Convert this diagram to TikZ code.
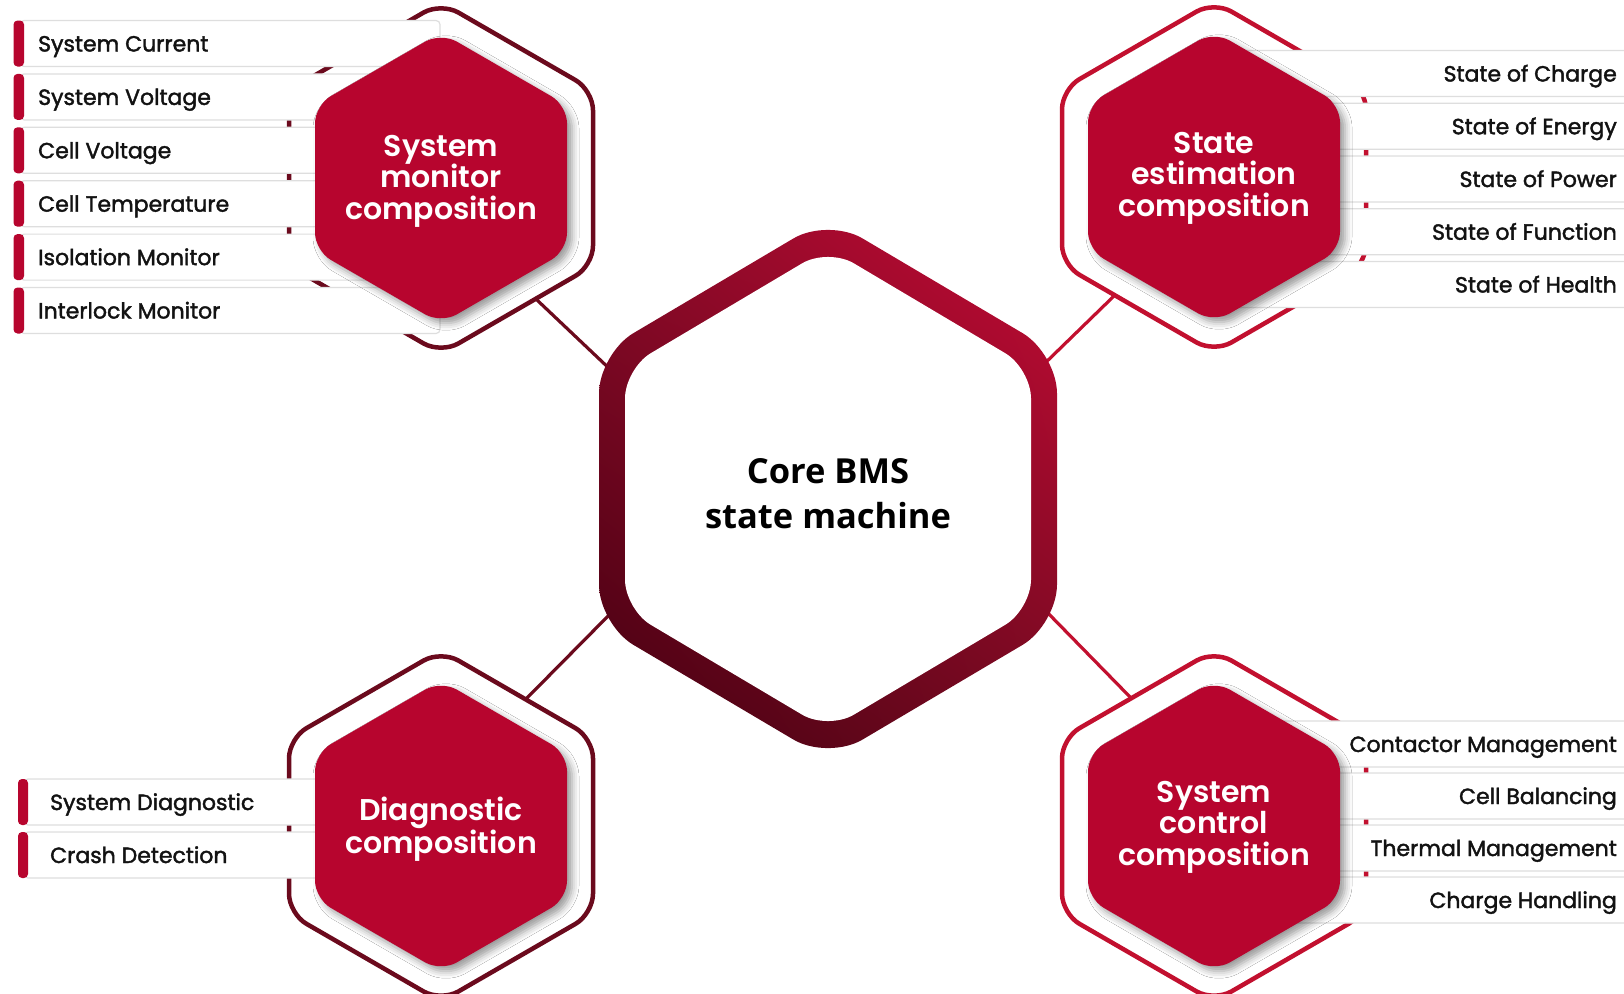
\documentclass[tikz,border=0pt]{standalone}
\usepackage{fontspec}
\setmainfont{Poppins}
\newfontfamily\popm{Poppins}[BoldFont={* SemiBold}]
\newfontfamily\popi{Poppins}[FakeBold=1.8]
\newfontfamily\corefont{Open Sans}
\usetikzlibrary{shadows.blur,shadings}
\definecolor{hexred}{HTML}{B7052E}
\definecolor{darkring}{HTML}{6B0A1D}
\definecolor{redring}{HTML}{C2102F}
\definecolor{boxgray}{HTML}{DEDEDE}
\definecolor{txt}{HTML}{121212}
\definecolor{gdark}{HTML}{420010}
\definecolor{gmidA}{HTML}{8A0A28}
\definecolor{gmidB}{HTML}{720A20}
\definecolor{gbright}{HTML}{C40B35}
% hexagon path: center x, center y, half width, vertex radius
\newcommand{\hexp}[4]{(#1-#3,#2) -- (#1-#3,#2-0.5*#4) -- (#1,#2-#4) -- (#1+#3,#2-0.5*#4) -- (#1+#3,#2+0.5*#4) -- (#1,#2+#4) -- (#1-#3,#2+0.5*#4) -- cycle}
\begin{document}
\begin{tikzpicture}[x=1pt,y=-1pt,
  hubtext/.style={text=white, font=\popm\bfseries\fontsize{30}{31.5}\selectfont, align=center, inner sep=0pt},
  itemtext/.style={text=txt, font=\popi\fontsize{22}{24}\selectfont, inner sep=0pt},
  itembox/.style={fill=white, draw=boxgray, line width=1.2pt, rounded corners=4pt},
  redbar/.style={fill=hexred, rounded corners=4pt},
  ringL/.style={draw=darkring, line width=4.5pt, fill=white, rounded corners=20pt},
  ringR/.style={draw=redring, line width=4.5pt, fill=white, rounded corners=20pt},
  hubfill/.style={fill=hexred, rounded corners=18pt, blur shadow={shadow xshift=5pt, shadow yshift=-5pt, shadow blur radius=7pt, shadow opacity=40}},
  linkL/.style={draw=darkring, line width=3.2pt},
  linkR/.style={draw=redring, line width=3.2pt},
]
\useasboundingbox (0,0) rectangle (1624,993);
\clip (0,0) rectangle (1624,993);

% connector end points
\coordinate (tlA) at (537,300);
\coordinate (tlB) at (614,373);
\coordinate (trA) at (1115,295);
\coordinate (trB) at (1040,368);
\coordinate (blA) at (525,700);
\coordinate (blB) at (614,610);
\coordinate (brA) at (1132,699);
\coordinate (brB) at (1042,607);

\draw[linkL] (tlA) -- (tlB);
\draw[linkR] (trA) -- (trB);
\draw[linkL] (blA) -- (blB);
\draw[linkR] (brA) -- (brB);

% central hexagon ring
\shade[rounded corners=40pt, upper left=gmidA, upper right=gbright, lower left=gdark, lower right=gmidB] \hexp{828}{489}{229}{271};
\fill[white, rounded corners=30pt] \hexp{828}{489}{203}{241};
\node[font=\corefont\bfseries\fontsize{34.5}{45}\selectfont, align=center, inner sep=0pt, text=black] (core) at (828,494) {Core BMS\\state machine};

% rings
\path[ringL] \hexp{441}{178}{152}{175.5};
\path[ringR] \hexp{1214}{177}{152}{175.5};
\path[ringL] \hexp{441}{826}{152}{175.5};
\path[ringR] \hexp{1214}{826}{152}{175.5};

% left top list boxes
\foreach \yc in {43.5,96.9,150.3,203.7,257.1,310.5}{
  \path[itembox] (20,\yc-23) rectangle (440,\yc+23);
  \path[redbar] (13.5,\yc-23) rectangle (24,\yc+23);
}
% left bottom list boxes
\foreach \yc in {802,855}{
  \path[itembox] (24,\yc-23) rectangle (400,\yc+23);
  \path[redbar] (18,\yc-23) rectangle (28,\yc+23);
}
% right top list boxes
\foreach \yc in {73.5,126.25,179,231.75,284.5}{
  \path[itembox] (1200,\yc-23) rectangle (1660,\yc+23);
}
% right bottom list boxes
\foreach \yc in {744,796,848,900}{
  \path[itembox] (1230,\yc-23) rectangle (1660,\yc+23);
}

% filled hubs
\path[hubfill] \hexp{441}{178}{126}{145.5};
\path[hubfill] \hexp{1214}{177}{126}{145.5};
\path[hubfill] \hexp{441}{826}{126}{145.5};
\path[hubfill] \hexp{1214}{826}{126}{145.5};

\node[hubtext] (hubTL) at (441,181) {System\\monitor\\composition};
\node[hubtext] (hubTR) at (1214,178) {State\\estimation\\composition};
\node[hubtext] (hubBL) at (441,829) {Diagnostic\\composition};
\node[hubtext] (hubBR) at (1214,827) {System\\control\\composition};

% item texts
\node[itemtext, anchor=base west] (i1) at (38,51.5) {System Current};
\node[itemtext, anchor=base west] (i2) at (38,104.9) {System Voltage};
\node[itemtext, anchor=base west] (i3) at (38,158.3) {Cell Voltage};
\node[itemtext, anchor=base west] (i4) at (38,211.7) {Cell Temperature};
\node[itemtext, anchor=base west] (i5) at (38,265.1) {Isolation Monitor};
\node[itemtext, anchor=base west] (i6) at (38,318.5) {Interlock Monitor};

\node[itemtext, anchor=base west] (d1) at (50,810) {System Diagnostic};
\node[itemtext, anchor=base west] (d2) at (50,863) {Crash Detection};

\node[itemtext, anchor=base east] (s1) at (1617,81.5) {State of Charge};
\node[itemtext, anchor=base east] (s2) at (1617,134.25) {State of Energy};
\node[itemtext, anchor=base east] (s3) at (1617,187) {State of Power};
\node[itemtext, anchor=base east] (s4) at (1617,239.75) {State of Function};
\node[itemtext, anchor=base east] (s5) at (1617,292.5) {State of Health};

\node[itemtext, anchor=base east] (c1) at (1617,752) {Contactor Management};
\node[itemtext, anchor=base east] (c2) at (1617,804) {Cell Balancing};
\node[itemtext, anchor=base east] (c3) at (1617,856) {Thermal Management};
\node[itemtext, anchor=base east] (c4) at (1617,908) {Charge Handling};
\end{tikzpicture}
\end{document}
